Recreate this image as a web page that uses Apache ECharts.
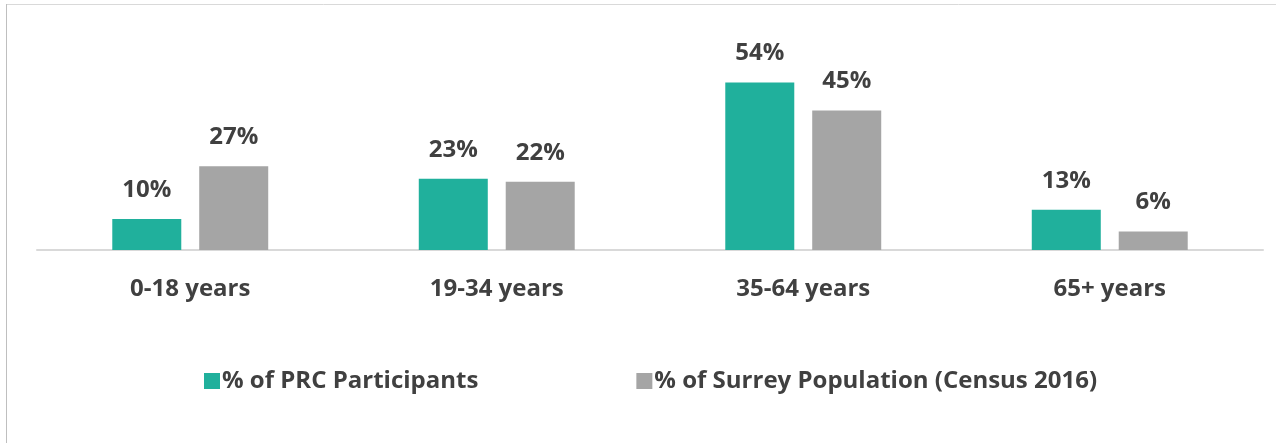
<!DOCTYPE html>
<html>
<head>
<meta charset="utf-8">
<script src="https://cdn.jsdelivr.net/npm/echarts@6/dist/echarts.min.js"></script>
<style>
html,body{margin:0;padding:0;background:#fff;}
#chart{width:1276px;height:443px;}
</style>
</head>
<body>
<div id="chart"></div>
<script>
const categories = ['0-18 years', '19-34 years', '35-64 years', '65+ years'];
const prcParticipants = [10, 23, 54, 13];
const surreyPopulation = [27, 22, 45, 6];
const seriesNames = ['% of PRC Participants', '% of Surrey Population (Census 2016)'];

const FONT = '"Open Sans", Lato, sans-serif';
const FS = 24;
const chart = echarts.init(document.getElementById('chart'));
const labelStyle = {
  show: true, position: 'top', distance: 17,
  formatter: '{c}%', fontFamily: FONT, fontWeight: 'bold', fontSize: FS, color: '#404040'
};
chart.setOption({
  animation: false,
  backgroundColor: '#fff',
  graphic: [
    { type: 'line', shape: { x1: 6, y1: 4.5, x2: 1276, y2: 4.5 }, style: { stroke: '#d9d9d9', lineWidth: 1 } },
    { type: 'line', shape: { x1: 6.5, y1: 4, x2: 6.5, y2: 443 }, style: { stroke: '#bfbfbf', lineWidth: 1 } }
  ],
  grid: { left: 37, right: 13, top: 64, bottom: 193 },
  legend: {
    data: seriesNames,
    left: 199, top: 364,
    itemWidth: 16, itemHeight: 16, itemGap: 158,
    icon: 'rect',
    textStyle: { fontFamily: FONT, fontWeight: 'bold', fontSize: FS, color: '#404040', padding: [0, 0, 0, -3] }
  },
  xAxis: {
    type: 'category', data: categories,
    axisLine: { lineStyle: { color: '#d9d9d9', width: 2 } },
    axisTick: { show: false },
    axisLabel: { fontFamily: FONT, fontWeight: 'bold', fontSize: FS, color: '#404040', margin: 27 }
  },
  yAxis: { type: 'value', min: 0, max: 60, show: false, splitLine: { show: false } },
  series: [
    { name: seriesNames[0], type: 'bar', data: prcParticipants, barWidth: 69, barGap: '26%',
      itemStyle: { color: '#20b09c' }, label: labelStyle },
    { name: seriesNames[1], type: 'bar', data: surreyPopulation, barWidth: 69,
      itemStyle: { color: '#a5a5a5' }, label: labelStyle }
  ]
});
</script>
</body>
</html>
